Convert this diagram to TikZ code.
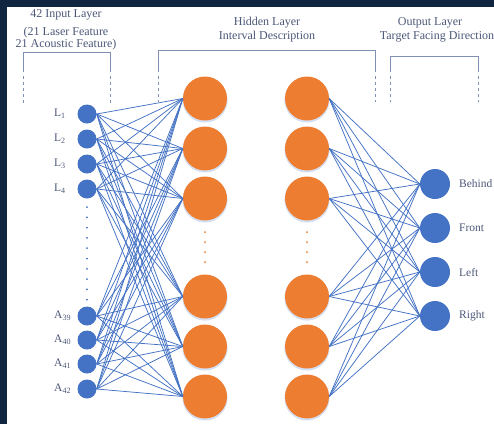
\documentclass[tikz,border=0pt]{standalone}
\usepackage{fontspec}
\setmainfont{Liberation Serif}
\definecolor{bgdark}{HTML}{0F2540}
\definecolor{nodeblue}{HTML}{4472C4}
\definecolor{nodeorange}{HTML}{ED7D31}
\definecolor{txtcol}{HTML}{4C5878}
\definecolor{brkcol}{HTML}{8090B4}
\begin{document}
\begin{tikzpicture}[x=1bp,y=-1bp,
  inode/.style={circle,fill=nodeblue,minimum size=19bp,inner sep=0},
  hnode/.style={circle,fill=nodeorange,minimum size=44bp,inner sep=0},
  onode/.style={circle,fill=nodeblue,minimum size=30bp,inner sep=0},
  conn/.style={draw=nodeblue,line width=0.75bp},
  lbl/.style={text=txtcol,font=\fontsize{11.5bp}{13bp}\selectfont,inner sep=0},
  head/.style={text=txtcol,font=\fontsize{12bp}{14bp}\selectfont,inner sep=0},
  bline/.style={draw=brkcol,line width=0.8bp},
  bdash/.style={draw=brkcol,line width=0.8bp,dash pattern=on 3bp off 3bp}]
\useasboundingbox (0,0) rectangle (494,424);
\fill[white] (0,0) rectangle (494,424);
\fill[bgdark] (0,0) rectangle (494,7);
\fill[bgdark] (0,0) rectangle (7,424);
% headings
\node[head] (tin1) at (66,14.5) {42 Input Layer};
\node[head] (tin2) at (66,33) {(21 Laser Feature};
\node[head] (tin3) at (66,45) {21 Acoustic Feature)};
\node[head] (thid1) at (267,23) {Hidden Layer};
\node[head] (thid2) at (267,37) {Interval Description};
\node[head] (tout1) at (430,23) {Output Layer};
\node[head] (tout2) at (437,37) {Target Facing Direction};
% brackets
\draw[bline] (23,72) |- (110,52) -- (110,72);
\draw[bdash] (23,76) -- (23,103);
\draw[bdash] (110,76) -- (110,103);
\draw[bline] (158,72) |- (375,50) -- (375,72);
\draw[bdash] (158,76) -- (158,102);
\draw[bdash] (375,76) -- (375,102);
\draw[bline] (390,72) |- (478,56) -- (478,72);
\draw[bdash] (390,76) -- (390,102);
\draw[bdash] (478,76) -- (478,102);
% input layer
\foreach \y/\l/\s [count=\i] in {114/L/1,139/L/2,164/L/3,189/L/4,316/A/39,340/A/40,364/A/41,389/A/42}{
  \node[inode] (i\i) at (87,\y) {};
  \node[lbl,anchor=west] (li\i) at (54,\y) {\l\textsubscript{\s}};
}
\foreach \y in {207,217.3,...,301}{\fill[nodeblue] (87,\y) circle (1bp);}
% hidden layers
\foreach \y [count=\i] in {98.5,148.5,198.5,296.5,346.5,396.5}{
  \fill[nodeblue!22] (205,\y+1.5) circle (22.6bp);
  \fill[nodeblue!22] (307,\y+1.5) circle (22.6bp);
  \node[hnode] (h\i) at (205,\y) {};
  \node[hnode] (g\i) at (307,\y) {};
}
\foreach \y in {232,242,252,262}{
  \fill[nodeorange] (205,\y) circle (1bp);
  \fill[nodeorange] (307,\y) circle (1bp);
}
% output layer
\foreach \y/\t [count=\i] in {184/Behind,228/Front,272/Left,316/Right}{
  \node[onode] (o\i) at (435,\y) {};
  \node[lbl,anchor=west] (to\i) at (459,\y) {\t};
}
% connections
\foreach \i in {1,...,8}{\foreach \j in {1,...,6}{\draw[conn] (i\i.east) -- (h\j.west);}}
\foreach \j in {1,...,6}{\foreach \k in {1,...,4}{\draw[conn] (g\j.east) -- (o\k.west);}}
\end{tikzpicture}
\end{document}
